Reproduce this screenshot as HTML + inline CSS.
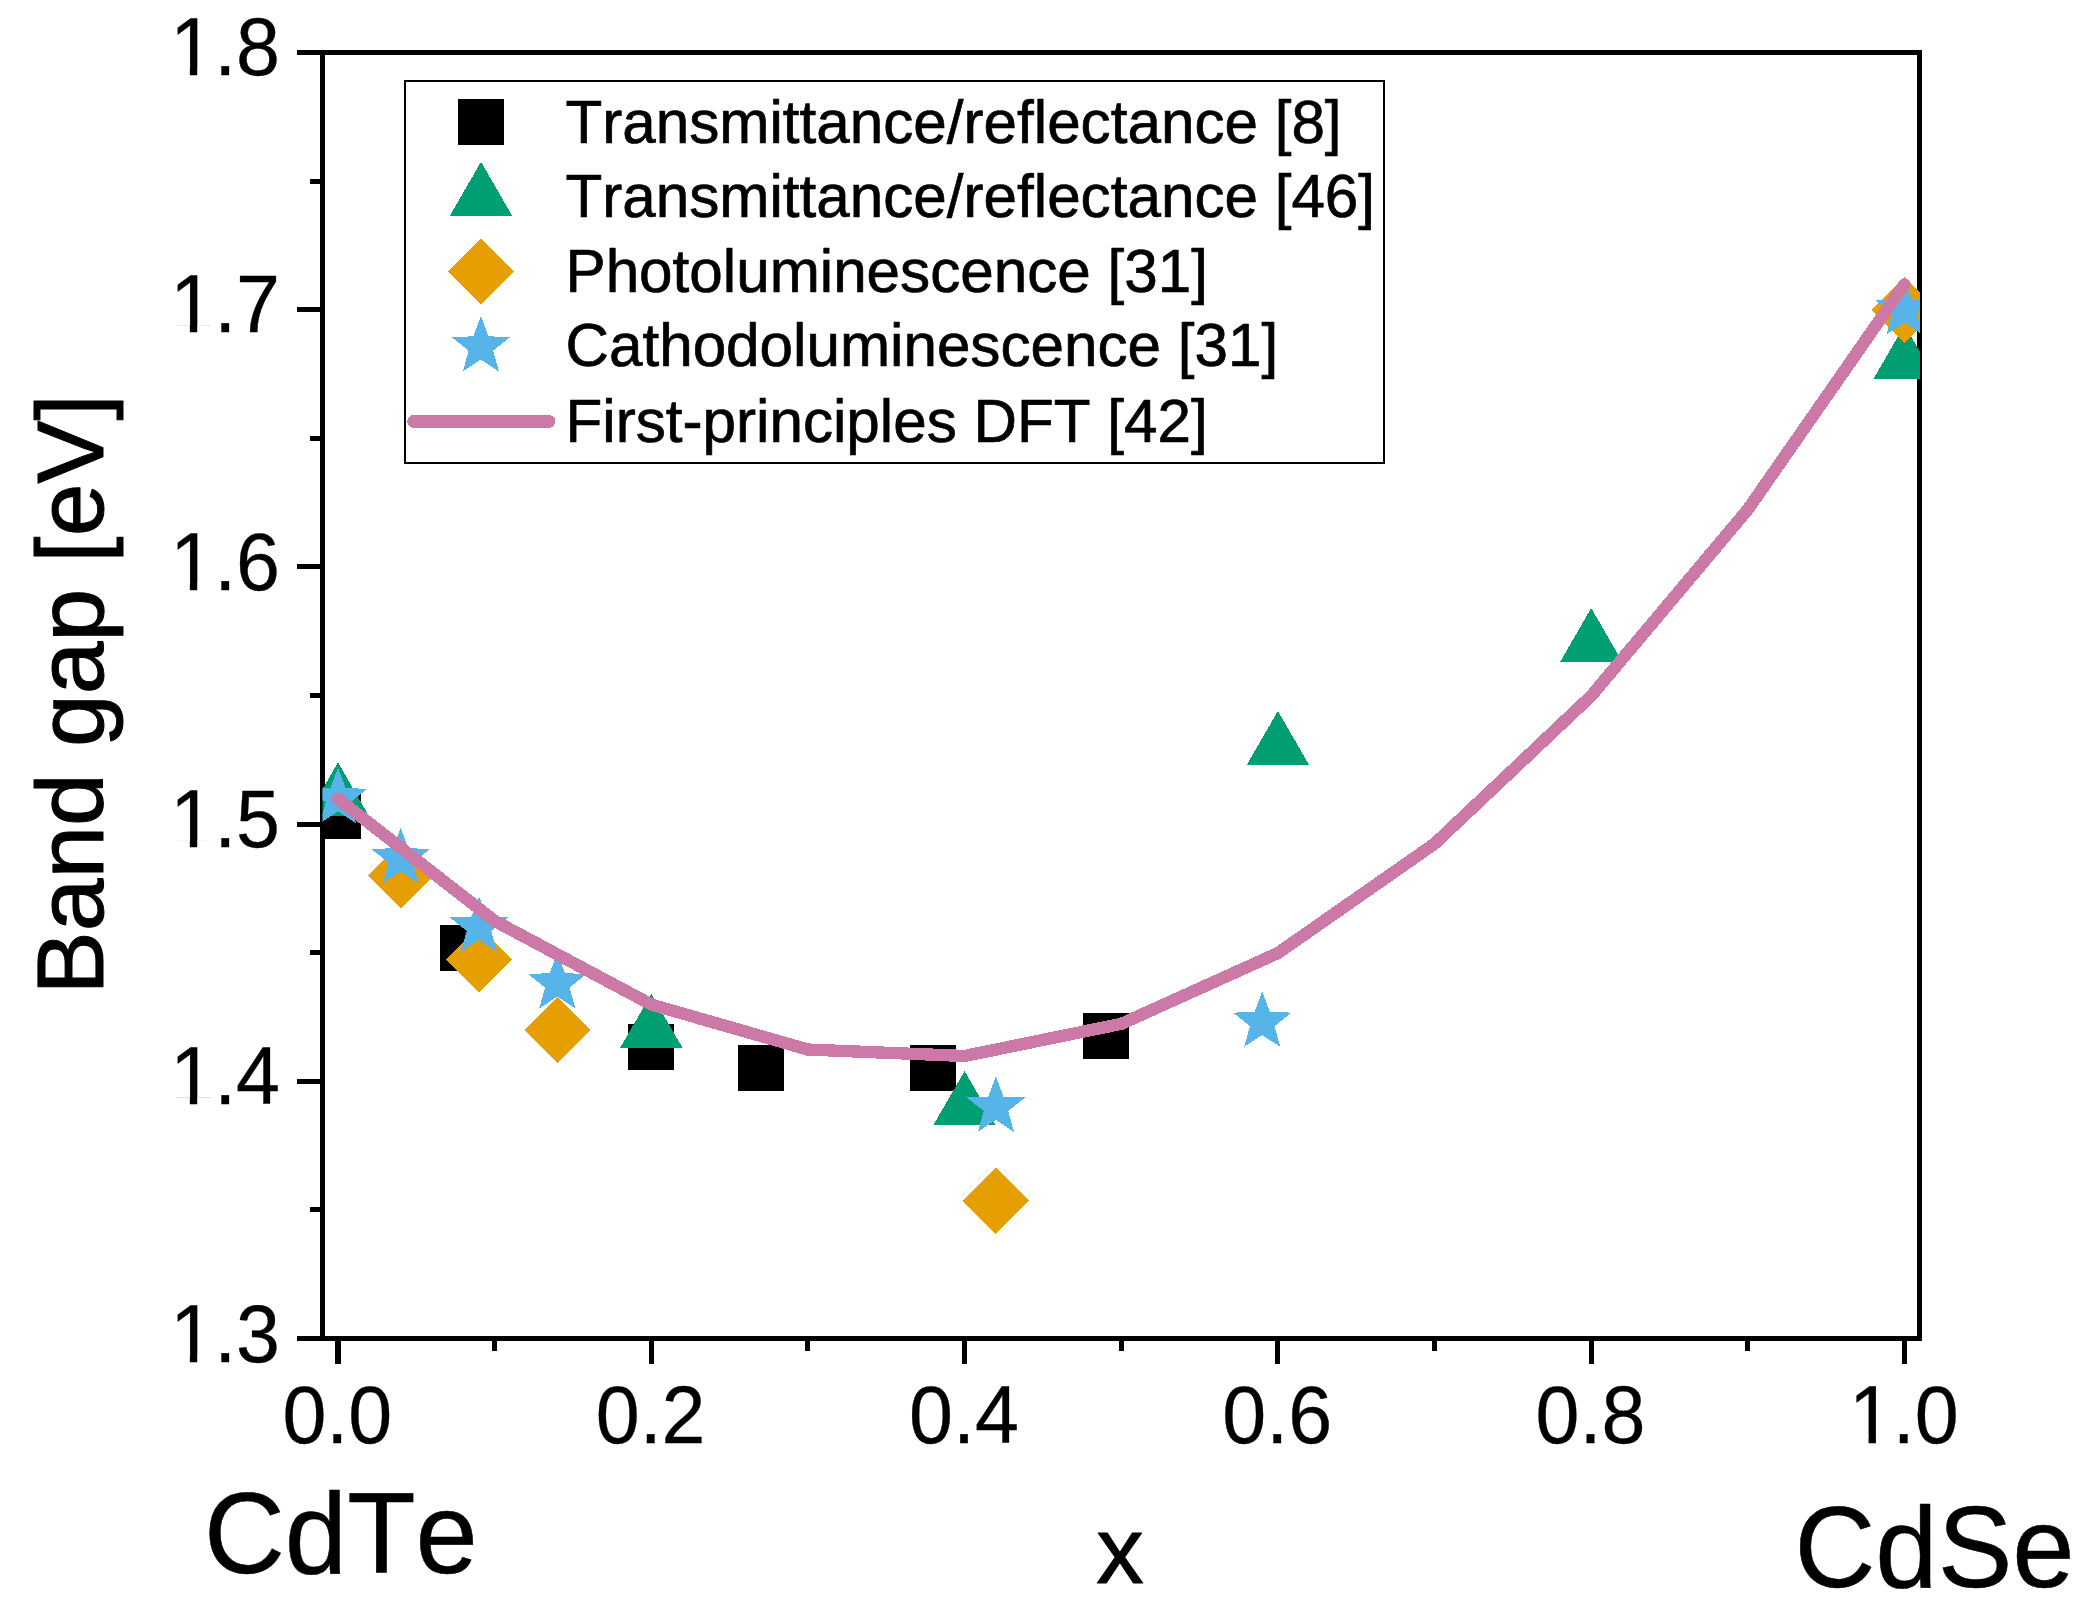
<!DOCTYPE html>
<html lang="en"><head><meta charset="utf-8"><title>Band gap of CdSeTe alloys</title>
<style>html,body{margin:0;padding:0;background:#fff}body{width:2077px;height:1619px;overflow:hidden}svg{display:block}text{font-family:"Liberation Sans",sans-serif;fill:#000;font-kerning:none;font-feature-settings:"kern" 0,"liga" 0}</style></head><body>
<svg width="2077" height="1619" viewBox="0 0 2077 1619">
<rect width="2077" height="1619" fill="#fff"/>
<defs><clipPath id="plot"><rect x="322.5" y="52.5" width="1597.5" height="1286.0"/></clipPath></defs>
<g id="axes" stroke="#000" stroke-width="5" fill="none" shape-rendering="crispEdges">
<rect x="322.5" y="52.5" width="1597.0" height="1286.0"/>
<line x1="297" y1="1338.50" x2="322.5" y2="1338.50"/>
<line x1="310" y1="1209.90" x2="322.5" y2="1209.90"/>
<line x1="297" y1="1081.30" x2="322.5" y2="1081.30"/>
<line x1="310" y1="952.70" x2="322.5" y2="952.70"/>
<line x1="297" y1="824.10" x2="322.5" y2="824.10"/>
<line x1="310" y1="695.50" x2="322.5" y2="695.50"/>
<line x1="297" y1="566.90" x2="322.5" y2="566.90"/>
<line x1="310" y1="438.30" x2="322.5" y2="438.30"/>
<line x1="297" y1="309.70" x2="322.5" y2="309.70"/>
<line x1="310" y1="181.10" x2="322.5" y2="181.10"/>
<line x1="297" y1="52.50" x2="322.5" y2="52.50"/>
<line x1="338.00" y1="1338.5" x2="338.00" y2="1364" stroke-width="6"/>
<line x1="494.65" y1="1338.5" x2="494.65" y2="1351"/>
<line x1="651.30" y1="1338.5" x2="651.30" y2="1364"/>
<line x1="807.95" y1="1338.5" x2="807.95" y2="1351"/>
<line x1="964.60" y1="1338.5" x2="964.60" y2="1364"/>
<line x1="1121.25" y1="1338.5" x2="1121.25" y2="1351"/>
<line x1="1277.90" y1="1338.5" x2="1277.90" y2="1364"/>
<line x1="1434.55" y1="1338.5" x2="1434.55" y2="1351"/>
<line x1="1591.20" y1="1338.5" x2="1591.20" y2="1364"/>
<line x1="1747.85" y1="1338.5" x2="1747.85" y2="1351"/>
<line x1="1904.50" y1="1338.5" x2="1904.50" y2="1364"/>
</g>
<g id="ticklabels">
<text transform="translate(280.00,1361.70) scale(1,1.04)" font-size="79" text-anchor="end" stroke="#000" stroke-width="0.3" stroke-linejoin="round">1.3</text>
<text transform="translate(280.00,1104.30) scale(1,1.04)" font-size="79" text-anchor="end" stroke="#000" stroke-width="0.3" stroke-linejoin="round">1.4</text>
<text transform="translate(280.00,846.90) scale(1,1.04)" font-size="79" text-anchor="end" stroke="#000" stroke-width="0.3" stroke-linejoin="round">1.5</text>
<text transform="translate(280.00,589.50) scale(1,1.04)" font-size="79" text-anchor="end" stroke="#000" stroke-width="0.3" stroke-linejoin="round">1.6</text>
<text transform="translate(280.00,332.10) scale(1,1.04)" font-size="79" text-anchor="end" stroke="#000" stroke-width="0.3" stroke-linejoin="round">1.7</text>
<text transform="translate(280.00,74.70) scale(1,1.04)" font-size="79" text-anchor="end" stroke="#000" stroke-width="0.3" stroke-linejoin="round">1.8</text>
<text transform="translate(337.30,1442.50) scale(1,1.04)" font-size="79" text-anchor="middle" stroke="#000" stroke-width="0.3" stroke-linejoin="round">0.0</text>
<text transform="translate(650.60,1442.50) scale(1,1.04)" font-size="79" text-anchor="middle" stroke="#000" stroke-width="0.3" stroke-linejoin="round">0.2</text>
<text transform="translate(963.90,1442.50) scale(1,1.04)" font-size="79" text-anchor="middle" stroke="#000" stroke-width="0.3" stroke-linejoin="round">0.4</text>
<text transform="translate(1277.20,1442.50) scale(1,1.04)" font-size="79" text-anchor="middle" stroke="#000" stroke-width="0.3" stroke-linejoin="round">0.6</text>
<text transform="translate(1590.50,1442.50) scale(1,1.04)" font-size="79" text-anchor="middle" stroke="#000" stroke-width="0.3" stroke-linejoin="round">0.8</text>
<text transform="translate(1903.80,1442.50) scale(1,1.04)" font-size="79" text-anchor="middle" stroke="#000" stroke-width="0.3" stroke-linejoin="round">1.0</text>
<g fill="#fff">
<rect x="175.00" y="1354.96" width="14.85" height="9.34"/><rect x="197.23" y="1354.96" width="14.23" height="9.34"/>
<rect x="175.00" y="1097.56" width="14.85" height="9.34"/><rect x="197.23" y="1097.56" width="14.23" height="9.34"/>
<rect x="175.00" y="840.16" width="14.85" height="9.34"/><rect x="197.23" y="840.16" width="14.23" height="9.34"/>
<rect x="175.00" y="582.76" width="14.85" height="9.34"/><rect x="197.23" y="582.76" width="14.23" height="9.34"/>
<rect x="175.00" y="325.36" width="14.85" height="9.34"/><rect x="197.23" y="325.36" width="14.23" height="9.34"/>
<rect x="175.00" y="67.96" width="14.85" height="9.34"/><rect x="197.23" y="67.96" width="14.23" height="9.34"/>
<rect x="1853.71" y="1435.76" width="14.85" height="9.34"/><rect x="1875.94" y="1435.76" width="14.23" height="9.34"/>
</g>
</g>
<g id="titles">
<text transform="translate(103.00,694.30) rotate(-90) scale(1,1.0)" font-size="94.7" text-anchor="middle" stroke="#000" stroke-width="1.0" stroke-linejoin="round">Band gap [eV]</text>
<text transform="translate(204.00,1572.70) scale(1,1.02)" font-size="112" text-anchor="start" stroke="#000" stroke-width="0.5" stroke-linejoin="round">CdTe</text>
<text transform="translate(1794.50,1587.40) scale(1,1.02)" font-size="112" text-anchor="start" stroke="#000" stroke-width="0.5" stroke-linejoin="round">CdSe</text>
<text transform="translate(1120.00,1582.70) scale(1,1.0)" font-size="95" text-anchor="middle" stroke="#000" stroke-width="1.0" stroke-linejoin="round">x</text>
</g>
<g id="data" clip-path="url(#plot)" shape-rendering="crispEdges">
<g fill="#000"><rect x="315.00" y="793.38" width="46" height="46"/><rect x="440.32" y="924.56" width="46" height="46"/><rect x="628.30" y="1023.58" width="46" height="46"/><rect x="737.96" y="1045.44" width="46" height="46"/><rect x="910.27" y="1045.44" width="46" height="46"/><rect x="1082.59" y="1013.29" width="46" height="46"/></g>
<g fill="#009E73"><path d="M338.00 762.41L369.15 816.36L306.85 816.36Z"/><path d="M651.30 993.89L682.45 1047.84L620.15 1047.84Z"/><path d="M964.60 1071.05L995.75 1125.00L933.45 1125.00Z"/><path d="M1277.90 710.97L1309.05 764.92L1246.75 764.92Z"/><path d="M1591.20 608.09L1622.35 662.04L1560.05 662.04Z"/><path d="M1904.50 325.17L1935.65 379.12L1873.35 379.12Z"/></g>
<g fill="#E69F00"><path d="M400.66 842.44L433.76 875.54L400.66 908.64L367.56 875.54Z"/><path d="M478.99 926.03L512.09 959.13L478.99 992.23L445.88 959.13Z"/><path d="M557.31 996.76L590.41 1029.86L557.31 1062.96L524.21 1029.86Z"/><path d="M995.93 1167.80L1029.03 1200.90L995.93 1234.00L962.83 1200.90Z"/><path d="M1904.50 276.60L1937.60 309.70L1904.50 342.80L1871.40 309.70Z"/></g>
<g fill="#56B4E9"><path d="M338.00 767.68L345.58 787.95L367.20 788.89L350.26 802.36L356.05 823.22L338.00 811.27L319.95 823.22L325.74 802.36L308.80 788.89L330.42 787.95Z"/><path d="M400.66 827.86L408.24 848.13L429.86 849.08L412.92 862.55L418.71 883.40L400.66 871.46L382.61 883.40L388.40 862.55L371.46 849.08L393.08 848.13Z"/><path d="M478.99 896.28L486.56 916.55L508.18 917.49L491.25 930.96L497.03 951.82L478.99 939.87L460.94 951.82L466.72 930.96L449.79 917.49L471.41 916.55Z"/><path d="M557.31 952.86L564.89 973.13L586.51 974.08L569.57 987.55L575.36 1008.40L557.31 996.46L539.26 1008.40L545.05 987.55L528.11 974.08L549.73 973.13Z"/><path d="M995.93 1076.32L1003.51 1096.59L1025.13 1097.53L1008.19 1111.00L1013.98 1131.86L995.93 1119.91L977.88 1131.86L983.67 1111.00L966.73 1097.53L988.35 1096.59Z"/><path d="M1262.23 991.44L1269.81 1011.71L1291.43 1012.66L1274.50 1026.13L1280.28 1046.98L1262.23 1035.04L1244.19 1046.98L1249.97 1026.13L1233.04 1012.66L1254.66 1011.71Z"/><path d="M1904.50 279.00L1912.08 299.27L1933.70 300.21L1916.76 313.68L1922.55 334.54L1904.50 322.59L1886.45 334.54L1892.24 313.68L1875.30 300.21L1896.92 299.27Z"/></g>
<polyline fill="none" stroke="#CC79A7" stroke-width="12.3" stroke-linecap="round" stroke-linejoin="round" points="338.00,798.78 494.65,920.95 651.30,1004.54 807.95,1049.55 964.60,1055.98 1121.25,1023.83 1277.90,953.10 1434.55,843.79 1591.20,695.90 1747.85,509.43 1904.50,284.38"/>
</g>
<g id="legend" shape-rendering="crispEdges">
<rect x="405" y="81" width="979" height="381.5" fill="#fff" stroke="#000" stroke-width="2" shape-rendering="crispEdges"/>
<g fill="#000"><rect x="458.00" y="99.00" width="46" height="46"/></g>
<g fill="#009E73"><path d="M481.00 161.83L512.15 215.78L449.85 215.78Z"/></g>
<g fill="#E69F00"><path d="M481.00 238.80L514.10 271.90L481.00 305.00L447.90 271.90Z"/></g>
<g fill="#56B4E9"><path d="M480.90 316.00L488.48 336.27L510.10 337.21L493.16 350.68L498.95 371.54L480.90 359.59L462.85 371.54L468.64 350.68L451.70 337.21L473.32 336.27Z"/></g>
<line x1="413.7" y1="421.4" x2="548.8" y2="421.4" stroke="#CC79A7" stroke-width="13" stroke-linecap="round"/>
<text transform="translate(565.50,142.80) scale(1,1.0)" font-size="60.2" text-anchor="start" stroke="#000" stroke-width="0.7" stroke-linejoin="round">Transmittance/reflectance [8]</text>
<text transform="translate(565.50,216.70) scale(1,1.0)" font-size="60.2" text-anchor="start" stroke="#000" stroke-width="0.7" stroke-linejoin="round">Transmittance/reflectance [46]</text>
<text transform="translate(565.50,291.60) scale(1,1.0)" font-size="60.2" text-anchor="start" stroke="#000" stroke-width="0.7" stroke-linejoin="round">Photoluminescence [31]</text>
<text transform="translate(565.50,366.40) scale(1,1.0)" font-size="60.2" text-anchor="start" stroke="#000" stroke-width="0.7" stroke-linejoin="round">Cathodoluminescence [31]</text>
<text transform="translate(565.50,441.80) scale(1,1.0)" font-size="60.2" text-anchor="start" stroke="#000" stroke-width="0.7" stroke-linejoin="round">First-principles DFT [42]</text>
</g>
</svg></body></html>
